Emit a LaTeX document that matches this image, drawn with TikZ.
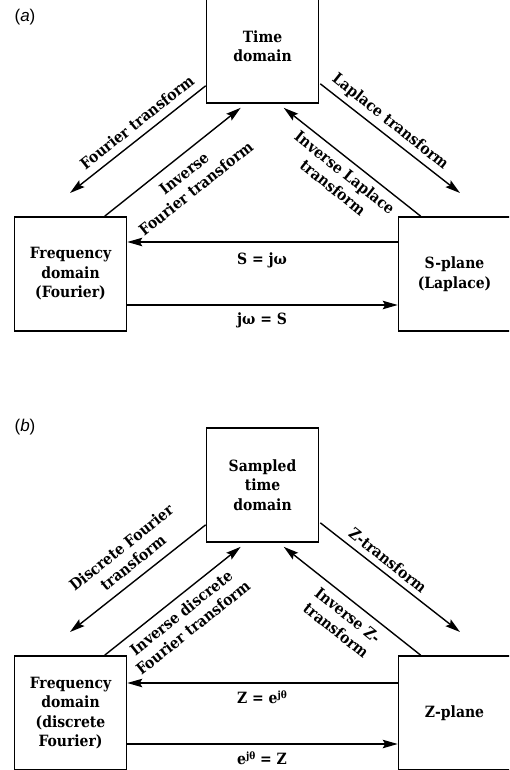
\documentclass[tikz,border=0pt]{standalone}
\usepackage{fontspec}
\setmainfont{DejaVu Serif Condensed}
\newfontfamily\panelfont{Liberation Sans}
\usetikzlibrary{arrows.meta,calc}
\tikzset{
  domainbox/.style={draw, line width=1.6pt, minimum width=112pt, minimum height=114pt,
    inner sep=0pt, align=center, font=\bfseries\fontsize{15.5}{19.5}\selectfont},
  conn/.style={line width=1.4pt, -{Stealth[length=15pt,width=8.5pt,inset=2.5pt]}},
  lbl/.style={inner sep=0pt, align=center, font=\bfseries\fontsize{15.5}{19}\selectfont},
  panel/.style={inner sep=0pt, font=\panelfont\fontsize{17}{17}\selectfont},
}
\newcommand{\supx}[1]{\raisebox{0.6ex}{\fontsize{10}{10}\selectfont #1}}
\begin{document}
\begin{tikzpicture}[x=1pt,y=-1pt]
\useasboundingbox (0,0) rectangle (509,770);
\clip (0,0) rectangle (509,770);
% ---------------- panel (a)
\node[panel] (pa) at (25,17) {(\textit{a})};
\node[domainbox] (ta) at (262.5,46) {Time\\domain};
\node[domainbox] (fa) at (70.5,274) {Frequency\\domain\\(Fourier)};
\node[domainbox] (sa) at (454.5,274) {S-plane\\(Laplace)};
\coordinate (aLend) at (70,193);
\coordinate (aRend) at (460,193);
\draw[conn] ($(ta.south west)+(0,-18)$) -- (aLend);
\draw[conn] ($(fa.north west)+(91,0)$) -- ($(ta.south west)+(35,4)$);
\draw[conn] ($(sa.north west)+(23,0)$) -- ($(ta.south west)+(78,4)$);
\draw[conn] ($(ta.south east)+(1,-20)$) -- (aRend);
\draw[conn] ($(sa.west)+(0,-32)$) -- ($(fa.east)+(0,-32)$);
\draw[conn] ($(fa.east)+(0,31)$) -- ($(sa.west)+(0,31)$);
\node[lbl, rotate=38.5] (la1) at (137,122) {Fourier transform};
\node[lbl, rotate=38.5] (la2) at (190,181) {Inverse\\Fourier transform};
\node[lbl, rotate=-38.5] (la3) at (339,180) {Inverse Laplace\\transform};
\node[lbl, rotate=-38.5] (la4) at (390,122) {Laplace transform};
\node[lbl] (la5) at (262,260) {S = jω};
\node[lbl] (la6) at (262,320) {jω = S};
% ---------------- panel (b)
\node[panel] (pb) at (25,427) {(\textit{b})};
\node[domainbox] (tb) at (262.5,485) {Sampled\\time\\domain};
\node[domainbox] (fb) at (70.5,713) {Frequency\\domain\\(discrete\\Fourier)};
\node[domainbox] (zb) at (454.5,713) {Z-plane};
\coordinate (bLend) at (70,632);
\coordinate (bRend) at (460,632);
\draw[conn] ($(tb.south west)+(0,-18)$) -- (bLend);
\draw[conn] ($(fb.north west)+(91,0)$) -- ($(tb.south west)+(35,4)$);
\draw[conn] ($(zb.north west)+(23,0)$) -- ($(tb.south west)+(78,4)$);
\draw[conn] ($(tb.south east)+(1,-20)$) -- (bRend);
\draw[conn] ($(zb.west)+(0,-30)$) -- ($(fb.east)+(0,-30)$);
\draw[conn] ($(fb.east)+(0,31)$) -- ($(zb.west)+(0,31)$);
\node[lbl, rotate=38.5] (lb1) at (127,555) {Discrete Fourier\\transform};
\node[lbl, rotate=38.5] (lb2) at (187,620) {Inverse discrete\\Fourier transform};
\node[lbl, rotate=-38.5] (lb3) at (342,623) {Inverse Z-\\transform};
\node[lbl, rotate=-38.5] (lb4) at (388,560) {Z-transform};
\node[lbl] (lb5) at (262,697) {Z = e\supx{jθ}};
\node[lbl] (lb6) at (262,758) {e\supx{jθ} = Z};
\end{tikzpicture}
\end{document}
